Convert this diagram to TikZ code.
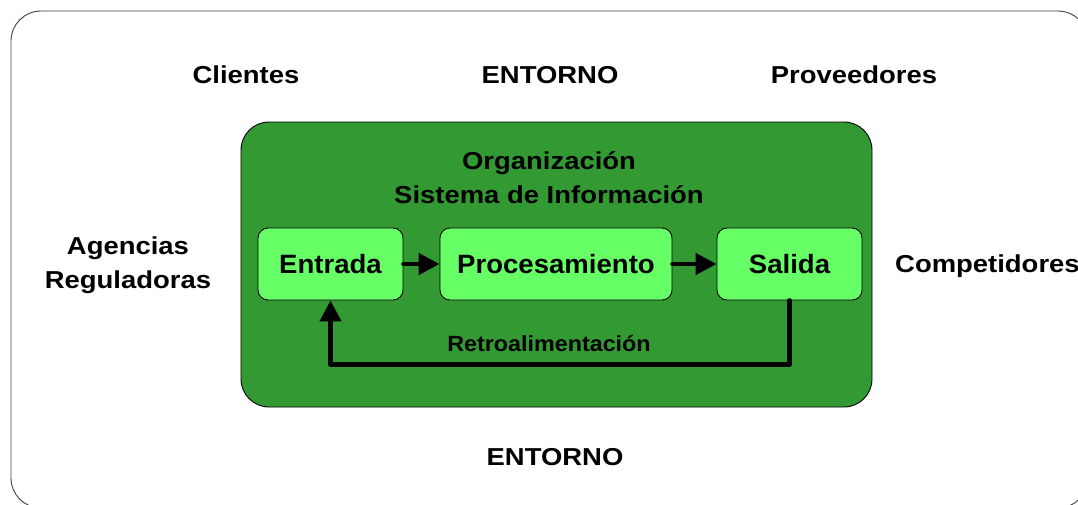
\documentclass[tikz,border=0pt]{standalone}
\usepackage{fontspec}
\setmainfont{Liberation Sans}
\newfontfamily\widefont{Liberation Sans}[FakeStretch=1.12]
\newfontfamily\boxfont{Liberation Sans}[FakeStretch=1.04]
\newfontfamily\retrofont{Liberation Sans}[FakeStretch=1.06]
\usetikzlibrary{arrows.meta}
\definecolor{darkgr}{RGB}{51,153,51}
\definecolor{lightgr}{RGB}{102,255,102}
\begin{document}
\begin{tikzpicture}[x=1pt,y=-1pt,
  lbl/.style={font=\widefont\bfseries\fontsize{24.5}{34}\selectfont, inner sep=0pt, align=center},
  procbox/.style={draw=black, line width=0.9pt, fill=lightgr, rounded corners=10pt,
    minimum height=72pt, inner sep=0pt, font=\boxfont\bfseries\fontsize{26.5}{30}\selectfont},
  arr/.style={line width=4.5pt, line cap=round, line join=round, -{Triangle[length=21pt,width=21pt]}},
  retro/.style={font=\retrofont\bfseries\fontsize{22}{26}\selectfont, inner sep=0pt}]
\useasboundingbox (0,0) rectangle (1078,504);
\clip (0,0) rectangle (1078,504);
% outer environment frame
\draw[draw=black!75, line width=0.9pt, rounded corners=30pt] (11,11) rectangle (1088,508);
% organisation box
\draw[draw=black, line width=0.9pt, fill=darkgr, rounded corners=28pt] (241,122) rectangle (872,407);
% environment labels
\node[lbl, anchor=base] (cli) at (246,83) {Clientes};
\node[lbl, anchor=base] (ent1) at (550,83) {ENTORNO};
\node[lbl, anchor=base] (prov) at (854,83) {Proveedores};
\node[lbl, anchor=base west] (comp) at (895,272) {Competidores};
\node[lbl, anchor=base] (ent2) at (555,465) {ENTORNO};
\node[lbl, anchor=base] (agen) at (128,288) {Agencias\\Reguladoras};
\node[lbl, anchor=base] (org) at (549,203) {Organización\\Sistema de Información};
% process boxes
\node[procbox, minimum width=145pt] (ent) at (330.5,264) {Entrada};
\node[procbox, minimum width=232pt] (proc) at (556,264) {Procesamiento};
\node[procbox, minimum width=145pt] (sal) at (789.5,264) {Salida};
% arrows
\draw[arr] (ent.east) -- (proc.west);
\draw[arr] (proc.east) -- (sal.west);
\draw[arr] (sal.south) -- ++(0,64) -| (ent.south);
\node[retro, anchor=base] (fb) at (549,351) {Retroalimentación};
\end{tikzpicture}
\end{document}
